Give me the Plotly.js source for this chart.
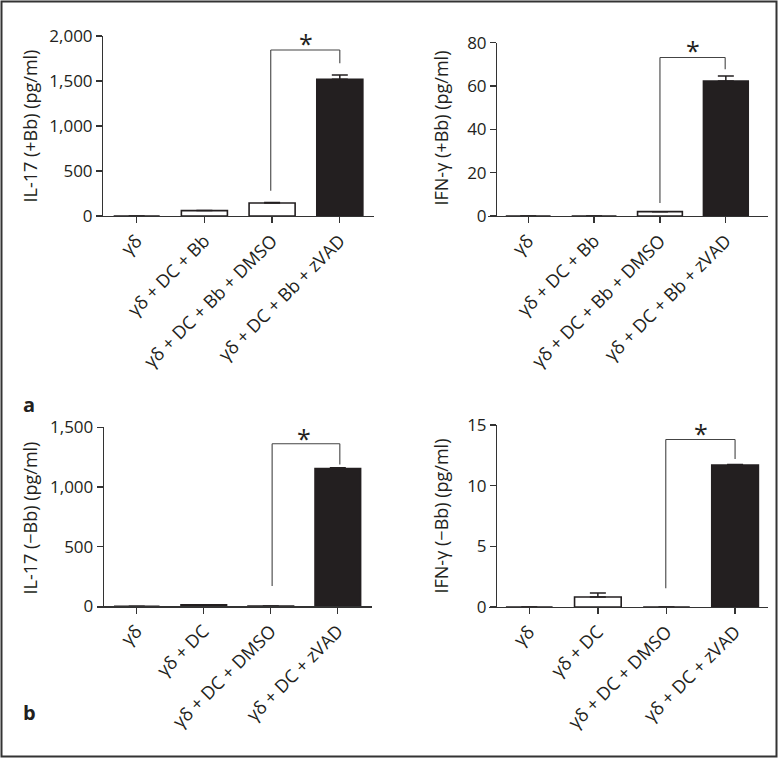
<!DOCTYPE html>
<html>
<head>
<meta charset="utf-8">
<script src="https://cdn.plot.ly/plotly-3.0.1.min.js"></script>
<style>
  html, body { margin: 0; padding: 0; background: #fff; }
  #chart { width: 778px; height: 758px; }
</style>
</head>
<body>
<div id="chart"></div>
<script>
// ---- data ----
const catsA = ['γδ', 'γδ + DC + Bb', 'γδ + DC + Bb + DMSO', 'γδ + DC + Bb + zVAD'];
const catsB = ['γδ', 'γδ + DC', 'γδ + DC + DMSO', 'γδ + DC + zVAD'];

const il17PlusBb = [0, 60, 145, 1520];
const il17PlusBbErr = [0, 0, 5, 47];
const ifngPlusBb = [0, 0, 2, 62.3];
const ifngPlusBbErr = [0, 0, 0, 2.3];
const il17MinusBb = [0, 12, 3, 1155];
const il17MinusBbErr = [0, 0, 0, 5];
const ifngMinusBb = [0, 0.82, 0, 11.7];
const ifngMinusBbErr = [0, 0.33, 0, 0.05];

const titles = ['IL-17 (+Bb) (pg/ml)', 'IFN-γ (+Bb) (pg/ml)', 'IL-17 (−Bb) (pg/ml)', 'IFN-γ (−Bb) (pg/ml)'];
const panelLabels = ['a', 'b'];
const star = '*';

// ---- layout helpers ----
const W = 778, H = 758;
const fx = p => p / W;
const fy = p => 1 - p / H;

const INK = '#231f20';
const AX = '#333333';
const FONT = 'Open Sans, Noto Sans, sans-serif';
const fills = ['#ffffff', '#ffffff', '#ffffff', INK];

function barTrace(cats, vals, errs, xa, ya) {
  return {
    type: 'bar', x: cats, y: vals, xaxis: xa, yaxis: ya,
    width: 0.68,
    marker: { color: fills, line: { color: INK, width: 1.6 } },
    error_y: { type: 'data', symmetric: false, array: errs, arrayminus: errs.map(() => 0),
               color: INK, thickness: 1.5, width: 8 },
    hoverinfo: 'skip', showlegend: false
  };
}

const data = [
  barTrace(catsA, il17PlusBb, il17PlusBbErr, 'x', 'y'),
  barTrace(catsA, ifngPlusBb, ifngPlusBbErr, 'x2', 'y2'),
  barTrace(catsB, il17MinusBb, il17MinusBbErr, 'x3', 'y3'),
  barTrace(catsB, ifngMinusBb, ifngMinusBbErr, 'x4', 'y4')
];

function xAxis(dom, range, ya) {
  return {
    domain: [fx(dom[0]), fx(dom[1])], anchor: ya, type: 'category', range: range,
    showline: true, linecolor: AX, linewidth: 1.3, showgrid: false, zeroline: false,
    ticks: 'outside', ticklen: 6, tickcolor: AX, tickwidth: 1.3, tickangle: -45,
    tickfont: { family: FONT, size: 18, color: INK }, fixedrange: true
  };
}
function yAxis(domPx, pos, range, dtick) {
  return {
    domain: [fy(domPx[0]), fy(domPx[1])], anchor: 'free', position: fx(pos), range: range,
    dtick: dtick, tickformat: ',', showline: true, linecolor: AX, linewidth: 1.3,
    showgrid: false, zeroline: false, ticks: 'outside', ticklen: 6, tickcolor: AX, tickwidth: 1.3,
    tickfont: { family: FONT, size: 17, color: INK }, fixedrange: true
  };
}

function bracket(xr, yr, xl, xrr, yLeft, yTop, yRight) {
  const ln = { color: '#444', width: 1.1 };
  return [
    { type: 'line', xref: xr, yref: yr, x0: xl, x1: xl, y0: yLeft, y1: yTop, line: ln },
    { type: 'line', xref: xr, yref: yr, x0: xl, x1: xrr, y0: yTop, y1: yTop, line: ln },
    { type: 'line', xref: xr, yref: yr, x0: xrr, x1: xrr, y0: yTop, y1: yRight, line: ln }
  ];
}

const shapes = [].concat(
  bracket('x', 'y', 1.98, 3, 281, 1844, 1697),
  bracket('x2', 'y2', 2, 2.99, 6, 73.2, 67.7),
  bracket('x3', 'y3', 2.02, 3.03, 170, 1362, 1189),
  bracket('x4', 'y4', 1.99, 3, 1.54, 13.8, 12.2),
  [{ type: 'rect', xref: 'paper', yref: 'paper', x0: fx(1.5), x1: fx(776.5), y0: fy(756.5), y1: fy(1.5),
     line: { color: '#333', width: 2 } }]
);

function starAnn(xr, yr, x, y) {
  return { xref: xr, yref: yr, x: x, y: y, text: star, showarrow: false, yanchor: 'middle',
           font: { family: FONT, size: 25, color: INK } };
}
function yTitle(x, y, t) {
  return { xref: 'paper', yref: 'paper', x: fx(x), y: fy(y), text: t, textangle: -90, showarrow: false,
           xanchor: 'center', yanchor: 'middle', font: { family: FONT, size: 18, color: INK } };
}

const annotations = [
  starAnn('x', 'y', 2.5, 1925),
  starAnn('x2', 'y2', 2.5, 76.8),
  starAnn('x3', 'y3', 2.5, 1410),
  starAnn('x4', 'y4', 2.5, 14.35),
  yTitle(29.5, 126, titles[0]),
  yTitle(440.5, 128, titles[1]),
  yTitle(29.5, 518, titles[2]),
  yTitle(440.5, 516, titles[3]),
  { xref: 'paper', yref: 'paper', x: fx(21), y: fy(404), text: '<b>' + panelLabels[0] + '</b>', showarrow: false,
    xanchor: 'left', yanchor: 'middle', font: { family: FONT, size: 20, color: INK } },
  { xref: 'paper', yref: 'paper', x: fx(21), y: fy(712), text: '<b>' + panelLabels[1] + '</b>', showarrow: false,
    xanchor: 'left', yanchor: 'middle', font: { family: FONT, size: 20, color: INK } }
];

const layout = {
  width: W, height: H,
  margin: { l: 0, r: 0, t: 0, b: 0 },
  paper_bgcolor: '#fff', plot_bgcolor: 'rgba(0,0,0,0)',
  font: { family: FONT, color: INK },
  bargap: 0.3,
  xaxis: xAxis([97, 374], [-0.586, 3.505], 'y'),
  yaxis: yAxis([216, 36], 102, [0, 2000], 500),
  xaxis2: xAxis([488, 768], [-0.61, 3.64], 'y2'),
  yaxis2: yAxis([216, 42.7], 496, [0, 80], 20),
  xaxis3: xAxis([97, 372], [-0.593, 3.51], 'y3'),
  yaxis3: yAxis([606.3, 427.3], 102.7, [0, 1500], 500),
  xaxis4: xAxis([489, 768], [-0.587, 3.48], 'y4'),
  yaxis4: yAxis([607, 425], 496, [0, 15], 5),
  shapes: shapes,
  annotations: annotations
};

Plotly.newPlot('chart', data, layout, { staticPlot: true, displayModeBar: false });
</script>
</body>
</html>
